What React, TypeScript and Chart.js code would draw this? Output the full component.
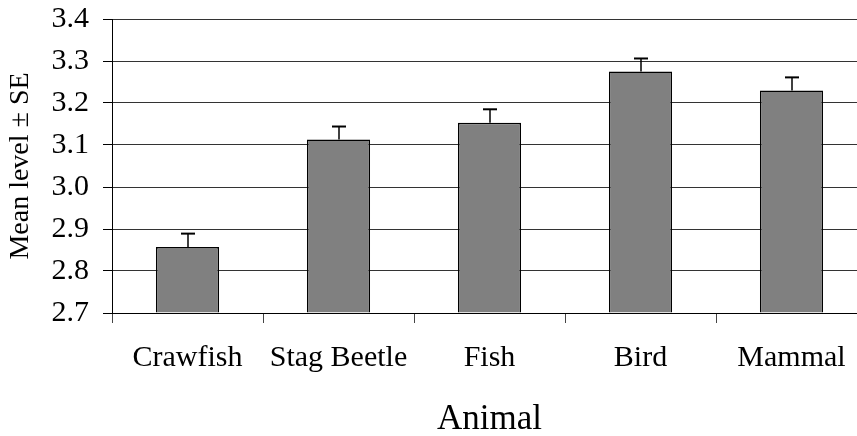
import React, { useEffect, useRef } from "react";
import { Chart, registerables } from "chart.js";

Chart.register(...registerables);

const categories = ["Crawfish", "Stag Beetle", "Fish", "Bird", "Mammal"];
const means = [2.857, 3.113, 3.153, 3.275, 3.23];
const standardErrors = [0.032, 0.031, 0.032, 0.031, 0.031];
const Y_MIN = 2.7;
const Y_MAX = 3.4;
const Y_STEP = 0.1;
const xTitle = "Animal";
const yTitle = "Mean level \u00b1 SE";

const FONT = '"Liberation Serif", "Times New Roman", serif';

const errorBarPlugin = {
  id: "errorBars",
  afterDatasetsDraw(chart: any) {
    const meta = chart.getDatasetMeta(0);
    const y = chart.scales.y;
    const ctx = chart.ctx;
    ctx.save();
    ctx.strokeStyle = "#000";
    meta.data.forEach((bar: any, i: number) => {
      const top = y.getPixelForValue(means[i] + standardErrors[i]);
      const base = y.getPixelForValue(means[i]);
      const x = Math.round(bar.x);
      ctx.lineWidth = 1.5;
      ctx.beginPath();
      ctx.moveTo(x, base);
      ctx.lineTo(x, top);
      ctx.stroke();
      ctx.lineWidth = 2;
      ctx.beginPath();
      ctx.moveTo(x - 7, top);
      ctx.lineTo(x + 7, top);
      ctx.stroke();
    });
    ctx.restore();
  },
};

export default function App() {
  const ref = useRef<HTMLCanvasElement | null>(null);

  useEffect(() => {
    if (!ref.current) return;
    const chart = new Chart(ref.current, {
      type: "bar",
      data: {
        labels: categories,
        datasets: [
          {
            data: means,
            base: Y_MIN,
            backgroundColor: "#808080",
            borderColor: "#000",
            borderWidth: 1.5,
            barPercentage: 0.418,
            categoryPercentage: 1,
          } as any,
        ],
      },
      options: {
        responsive: false,
        animation: false,
        layout: { padding: { top: 19, right: 3, left: 0, bottom: 0 } },
        plugins: {
          legend: { display: false },
          tooltip: { enabled: false },
        },
        scales: {
          x: {
            offset: true,
            grid: {
              offset: true,
              drawOnChartArea: false,
              drawTicks: true,
              tickLength: 10,
              color: "#444",
              lineWidth: 1,
            },
            border: { display: true, color: "#000", width: 1 },
            ticks: {
              color: "#000",
              font: { family: FONT, size: 30 },
              padding: 17,
              maxRotation: 0,
              autoSkip: false,
            },
            title: {
              display: true,
              text: xTitle,
              color: "#000",
              font: { family: FONT, size: 35 },
              padding: { top: 0, bottom: 0 },
            },
            afterFit: (scale: any) => {
              scale.height = 128;
              scale.paddingLeft = 0;
              scale.paddingRight = 0;
            },
          },
          y: {
            min: Y_MIN,
            max: Y_MAX,
            grid: {
              color: "#333",
              lineWidth: 1,
              tickLength: 9,
              tickColor: "#000",
            },
            border: { display: true, color: "#000", width: 1 },
            ticks: {
              stepSize: Y_STEP,
              color: "#000",
              font: { family: FONT, size: 30 },
              padding: 14,
              callback: (v: any) => Number(v).toFixed(1),
            },
            title: {
              display: true,
              text: yTitle,
              color: "#000",
              font: { family: FONT, size: 28 },
              padding: { top: 4, bottom: 0 },
            },
            afterFit: (scale: any) => {
              scale.width = 112;
              scale.paddingTop = 0;
              scale.paddingBottom = 0;
            },
          },
        },
      },
      plugins: [errorBarPlugin],
    });
    return () => chart.destroy();
  }, []);

  return (
    <div
      style={{
        position: "fixed",
        left: 0,
        top: 0,
        width: 857,
        height: 436,
        overflow: "hidden",
        background: "#fff",
      }}
    >
      <canvas ref={ref} width={870} height={441} style={{ display: "block" }} />
    </div>
  );
}
